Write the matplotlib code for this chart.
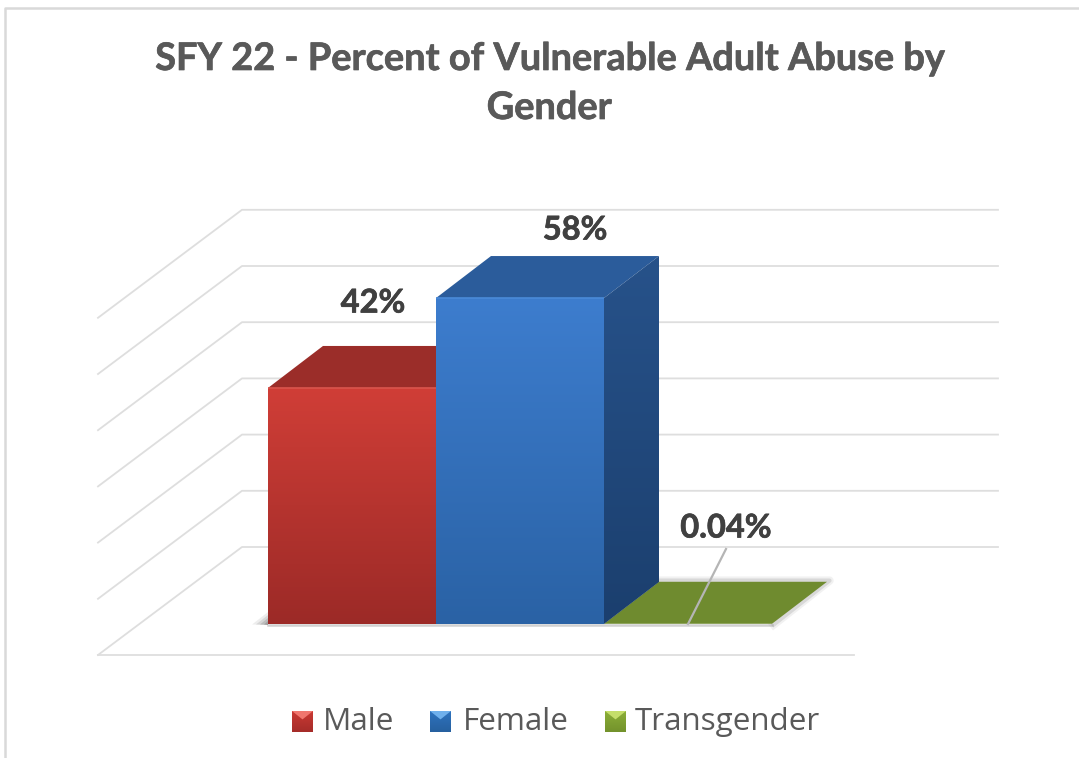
import matplotlib
matplotlib.use("Agg")
import matplotlib.pyplot as plt
import matplotlib.patheffects as pe
import numpy as np
from matplotlib.colors import LinearSegmentedColormap
from matplotlib.lines import Line2D
from matplotlib.patches import Polygon

categories = ["Male", "Female", "Transgender"]
values = [42, 58, 0.04]
labels = ["42%", "58%", "0.04%"]
grid_ticks = [0, 10, 20, 30, 40, 50, 60]

W, H = 1079, 758
PX_X = 168.0   # pixels per category
PX_Y = 5.62    # pixels per percent
X0, Y0 = 268, 624   # where the first bar sits on the floor

DX = 55 / PX_X  # bar depth
DY = 42 / PX_Y

front_cols = [("#D03E37", "#9C2A27"), ("#3D7DCE", "#2A62A5")]
side_cols = [("#7E2320", "#7E2320"), ("#27528A", "#1B3F6E")]
top_cols = ["#9B2D29", "#2B5C9B", "#6F8B2F"]
edge_cols = ["#D9544C", "#4A8AD8"]
leg_cols = [("#F0766E", "#CC3A34", "#A52C29"),
            ("#6FB0EC", "#2F74C0", "#26609F"),
            ("#C5DE6A", "#8DB038", "#73922C")]
text_col = "#595959"
label_col = "#404040"
grid_col = "#DEDEDE"

fig = plt.figure(figsize=(W / 100, H / 100), dpi=100, facecolor="white")
ax = fig.add_axes([0, 0, 1, 1])
ax.set_xlim(-X0 / PX_X, (W - X0) / PX_X)
ax.set_ylim(-(H - Y0) / PX_Y, Y0 / PX_Y)
ax.axis("off")
xl, yl = ax.get_xlim(), ax.get_ylim()


def gradient(pts, c1, c2, z):
    # vertical gradient clipped to a polygon
    pts = np.array(pts)
    cmap = LinearSegmentedColormap.from_list("g", [c2, c1])
    g = np.linspace(1, 0, 128).reshape(-1, 1)
    im = ax.imshow(g, cmap=cmap, aspect="auto", zorder=z,
                   extent=[pts[:, 0].min(), pts[:, 0].max(), pts[:, 1].min(), pts[:, 1].max()])
    im.set_clip_path(Polygon(pts, transform=ax.transData))


# side walls and back wall gridlines
back_y = (Y0 - 547) / PX_Y
front_y = (Y0 - 655) / PX_Y
wall_l = (98 - X0) / PX_X
wall_b = (242 - X0) / PX_X
wall_r = (998 - X0) / PX_X
floor_r = (854 - X0) / PX_X
for t in grid_ticks:
    ax.plot([wall_l, wall_b, wall_r], [t + front_y, t + back_y, t + back_y],
            color=grid_col, lw=1.3, zorder=1)
ax.plot([wall_l, floor_r], [front_y, front_y], color=grid_col, lw=1.3, zorder=1)

# soft shadow along the floor
for i, a in zip([16, 12, 8, 4], [0.10, 0.15, 0.2, 0.25]):
    ax.add_patch(Polygon([(-i / PX_X, -0.5 / PX_Y), (0, -1 / PX_Y), (0, i * 0.75 / PX_Y)],
                         fc="#555555", ec="none", alpha=a, zorder=2))
ax.plot([0, 3], [-0.25, -0.25], color="#9A9A9A", lw=1.8, alpha=0.45, zorder=2)
green_x = 2
for lw, a in [(6, 0.12), (3, 0.25)]:
    ax.plot([green_x + 1 + 0.01, green_x + 1 + DX + 0.015, green_x + DX],
            [-0.1, DY + 0.25, DY + 0.25], color="#8E8E8E", lw=lw, alpha=a, zorder=2,
            solid_joinstyle="round")

# bars, back one first so the blue one hides the red top
for i, v in enumerate(values):
    if v > 1:
        top = [(i, v), (i + DX, v + DY), (i + 1 + DX, v + DY), (i + 1, v)]
        ax.add_patch(Polygon(top, fc=top_cols[i], ec="none", zorder=3 + i))
        side = [(i + 1, 0), (i + 1 + DX, DY), (i + 1 + DX, v + DY), (i + 1, v)]
        gradient(side, side_cols[i][0], side_cols[i][1], 3 + i)
        front = [(i, 0), (i + 1, 0), (i + 1, v), (i, v)]
        gradient(front, front_cols[i][0], front_cols[i][1], 3.5 + i)
        ax.plot([i, i + 1], [v, v], color=edge_cols[i], lw=1.2, zorder=3.6 + i,
                solid_capstyle="butt")
    else:
        top = [(i, v), (i + DX, v + DY), (i + 1 + DX, v + DY), (i + 1, v)]
        ax.add_patch(Polygon(top, fc=top_cols[i], ec="none", zorder=2.5))
ax.set_xlim(xl)
ax.set_ylim(yl)

heavy = [pe.withStroke(linewidth=0.5, foreground=label_col)]
heavy_t = [pe.withStroke(linewidth=0.5, foreground=text_col)]

# data labels
label_pos = [((373 - X0) / PX_X, (Y0 - 303) / PX_Y),
             ((575 - X0) / PX_X, (Y0 - 230) / PX_Y),
             ((726 - X0) / PX_X, (Y0 - 528) / PX_Y)]
for (lx, ly), s in zip(label_pos, labels):
    ax.text(lx, ly, s, ha="center", va="center", fontsize=23.5, fontweight="bold",
            family="Lato", color=label_col, zorder=8, path_effects=heavy)
ax.plot([2.5, (726 - X0) / PX_X], [0, (Y0 - 549) / PX_Y], color="#B5B5B5", lw=1.6, zorder=7)

# title
fig.text(549 / W, 1 - 59 / H, "SFY 22 - Percent of Vulnerable Adult Abuse by",
         ha="center", va="center", fontsize=27.3, fontweight="bold", family="Lato", color=text_col,
         path_effects=heavy_t)
fig.text(549 / W, 1 - 108 / H, "Gender",
         ha="center", va="center", fontsize=27.3, fontweight="bold", family="Lato", color=text_col,
         path_effects=heavy_t)

# frame of the chart
fig.add_artist(Line2D([5 / W, 5 / W, 1], [0, 1 - 8 / H, 1 - 8 / H], color="#D9D9D9", lw=1.8))

# legend, small bevelled squares
leg_sq = [292, 430, 605]
leg_tx = [323, 463, 635]
S = 21
for sx, tx, cat, (c_top, c_mid, c_bot) in zip(leg_sq, leg_tx, categories, leg_cols):
    x1 = (sx - X0) / PX_X
    x2 = (sx + S - X0) / PX_X
    y2 = (Y0 - 711) / PX_Y
    y1 = (Y0 - 732) / PX_Y
    xm = (x1 + x2) / 2
    ym = y2 + (y1 - y2) * 0.4
    gradient([(x1, y1), (x2, y1), (x2, y2), (x1, y2)], c_mid, c_bot, 5)
    ax.add_patch(Polygon([(x1, y2), (x2, y2), (xm, ym)], fc=c_top, ec="none", zorder=6))
    ax.text((tx - X0) / PX_X, (Y0 - 722) / PX_Y, cat, ha="left", va="center", fontsize=22.6,
            family="Open Sans", color=text_col)
ax.set_xlim(xl)
ax.set_ylim(yl)

fig.savefig("out.png", dpi=100)
